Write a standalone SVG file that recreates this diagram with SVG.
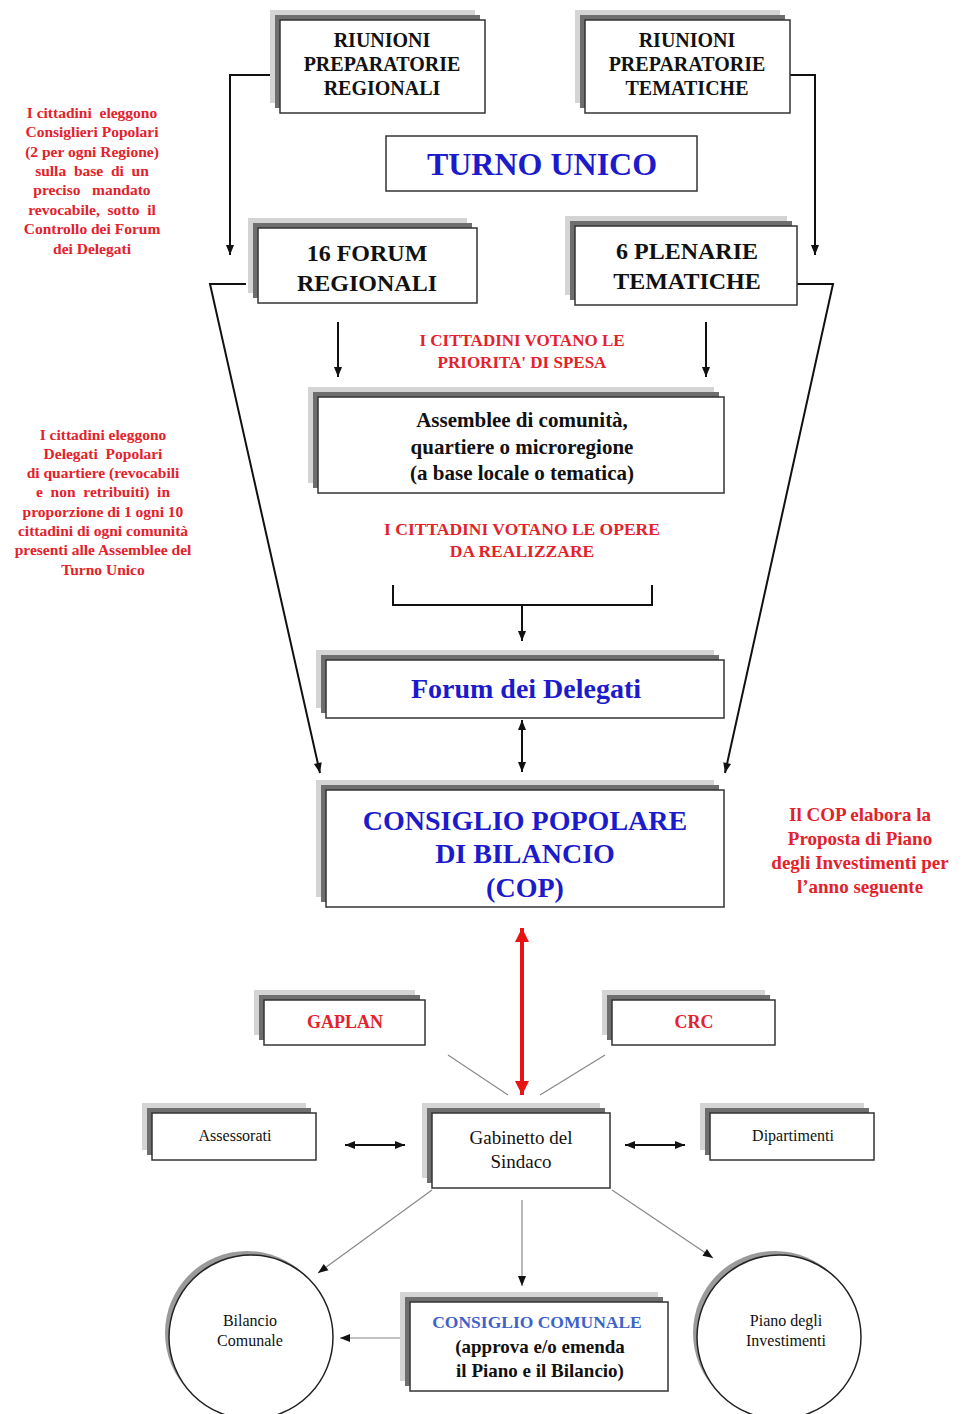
<svg xmlns="http://www.w3.org/2000/svg" width="962" height="1414" viewBox="0 0 962 1414">
<style>
.sh1{fill:#d4d4d4}
.sh2{fill:#6e6e6e}
.box{fill:#fff;stroke:#333;stroke-width:1.5}
.t{font-family:"Liberation Serif","Times New Roman",serif;text-anchor:middle;fill:#111}
.b{font-weight:bold}
.red{fill:#e3222b}
.blue{fill:#1b1bcc}
.con{fill:none;stroke:#111;stroke-width:2}
.thin{fill:none;stroke:#888;stroke-width:1.2}
.csh{fill:#9a9a9a}
.circ{fill:#fff;stroke:#222;stroke-width:1.5}
</style>
<defs>
<marker id="ah" viewBox="0 0 10 10" refX="10" refY="5" markerWidth="11" markerHeight="10" markerUnits="userSpaceOnUse" orient="auto-start-reverse"><path d="M0,1 L10,5 L0,9 z" fill="#111"/></marker>
<marker id="ahr" viewBox="0 0 10 10" refX="10" refY="5" markerWidth="16" markerHeight="14" markerUnits="userSpaceOnUse" orient="auto-start-reverse"><path d="M0,0 L10,5 L0,10 z" fill="#e81414"/></marker>
</defs>
<rect width="962" height="1414" fill="#fff"/>

<g id="connectors">
<path class="con" d="M272,75 H230 V255" marker-end="url(#ah)"/>
<path class="con" d="M790,75 H815 V255" marker-end="url(#ah)"/>
<path class="con" d="M246,284 H210 L320,773" marker-end="url(#ah)"/>
<path class="con" d="M797,284 H833 L725,773" marker-end="url(#ah)"/>
<path class="con" d="M338,322 V377" marker-end="url(#ah)"/>
<path class="con" d="M706,322 V377" marker-end="url(#ah)"/>
<path class="con" d="M393,585 V605 H652 V585"/>
<path class="con" d="M522,605 V641" marker-end="url(#ah)"/>
<path class="con" d="M522,720 V772" marker-start="url(#ah)" marker-end="url(#ah)"/>
<path fill="none" stroke="#e81414" stroke-width="4" d="M522,928 V1095" marker-start="url(#ahr)" marker-end="url(#ahr)"/>
<path class="thin" d="M448,1055 L508,1095"/>
<path class="thin" d="M605,1055 L540,1095"/>
<path class="con" d="M345,1145 H405" marker-start="url(#ah)" marker-end="url(#ah)"/>
<path class="con" d="M625,1145 H685" marker-start="url(#ah)" marker-end="url(#ah)"/>
<path class="thin" d="M432,1190 L318,1273" marker-end="url(#ah)"/>
<path class="thin" d="M522,1200 V1286" marker-end="url(#ah)"/>
<path class="thin" d="M612,1190 L713,1258" marker-end="url(#ah)"/>
<path class="thin" d="M410,1338 H340" marker-end="url(#ah)"/>
</g>

<g id="n-riunioni-regionali">
<rect class="sh1" x="270" y="10" width="205" height="93"/><rect class="sh2" x="275" y="15" width="205" height="93"/>
<rect class="box" x="280" y="20" width="205" height="93"/>
<text class="t b" font-size="20"><tspan x="382" y="47">RIUNIONI</tspan><tspan x="382" y="71">PREPARATORIE</tspan><tspan x="382" y="95">REGIONALI</tspan></text>
</g>
<g id="n-riunioni-tematiche">
<rect class="sh1" x="575" y="10" width="205" height="93"/><rect class="sh2" x="580" y="15" width="205" height="93"/>
<rect class="box" x="585" y="20" width="205" height="93"/>
<text class="t b" font-size="20"><tspan x="687" y="47">RIUNIONI</tspan><tspan x="687" y="71">PREPARATORIE</tspan><tspan x="687" y="95">TEMATICHE</tspan></text>
</g>
<g id="n-turno-unico">
<rect class="box" x="386" y="136" width="311" height="55"/>
<text class="t b blue" font-size="32" x="542" y="175">TURNO UNICO</text>
</g>
<g id="n-forum-regionali">
<rect class="sh1" x="248" y="218" width="219" height="75"/><rect class="sh2" x="253" y="223" width="219" height="75"/>
<rect class="box" x="258" y="228" width="219" height="75"/>
<text class="t b" font-size="24"><tspan x="367" y="261">16 FORUM</tspan><tspan x="367" y="291">REGIONALI</tspan></text>
</g>
<g id="n-plenarie">
<rect class="sh1" x="565" y="216" width="222" height="79"/><rect class="sh2" x="570" y="221" width="222" height="79"/>
<rect class="box" x="575" y="226" width="222" height="79"/>
<text class="t b" font-size="24"><tspan x="687" y="259">6 PLENARIE</tspan><tspan x="687" y="289">TEMATICHE</tspan></text>
</g>
<g id="n-assemblee">
<rect class="sh1" x="308" y="387" width="406" height="96"/><rect class="sh2" x="313" y="392" width="406" height="96"/>
<rect class="box" x="318" y="397" width="406" height="96"/>
<text class="t b" font-size="21"><tspan x="522" y="427">Assemblee di comunità,</tspan><tspan x="522" y="454">quartiere o microregione</tspan><tspan x="522" y="480">(a base locale o tematica)</tspan></text>
</g>
<g id="n-forum-delegati">
<rect class="sh1" x="316" y="650" width="398" height="58"/><rect class="sh2" x="321" y="655" width="398" height="58"/>
<rect class="box" x="326" y="660" width="398" height="58"/>
<text class="t b blue" font-size="28" x="526" y="698">Forum dei Delegati</text>
</g>
<g id="n-cop">
<rect class="sh1" x="316" y="780" width="398" height="117"/><rect class="sh2" x="321" y="785" width="398" height="117"/>
<rect class="box" x="326" y="790" width="398" height="117"/>
<text class="t b blue" font-size="28"><tspan x="525" y="830">CONSIGLIO POPOLARE</tspan><tspan x="525" y="863">DI BILANCIO</tspan><tspan x="525" y="897">(COP)</tspan></text>
</g>
<g id="n-gaplan">
<rect class="sh1" x="254" y="990" width="161" height="45"/><rect class="sh2" x="259" y="995" width="161" height="45"/>
<rect class="box" x="264" y="1000" width="161" height="45"/>
<text class="t b red" font-size="18" x="345" y="1028">GAPLAN</text>
</g>
<g id="n-crc">
<rect class="sh1" x="602" y="990" width="163" height="45"/><rect class="sh2" x="607" y="995" width="163" height="45"/>
<rect class="box" x="612" y="1000" width="163" height="45"/>
<text class="t b red" font-size="18" x="694" y="1028">CRC</text>
</g>
<g id="n-assessorati">
<rect class="sh1" x="142" y="1103" width="164" height="47"/><rect class="sh2" x="147" y="1108" width="164" height="47"/>
<rect class="box" x="152" y="1113" width="164" height="47"/>
<text class="t" font-size="16" x="235" y="1141">Assessorati</text>
</g>
<g id="n-gabinetto">
<rect class="sh1" x="422" y="1103" width="178" height="75"/><rect class="sh2" x="427" y="1108" width="178" height="75"/>
<rect class="box" x="432" y="1113" width="178" height="75"/>
<text class="t" font-size="19"><tspan x="521" y="1144">Gabinetto del</tspan><tspan x="521" y="1168">Sindaco</tspan></text>
</g>
<g id="n-dipartimenti">
<rect class="sh1" x="700" y="1103" width="164" height="47"/><rect class="sh2" x="705" y="1108" width="164" height="47"/>
<rect class="box" x="710" y="1113" width="164" height="47"/>
<text class="t" font-size="16" x="793" y="1141">Dipartimenti</text>
</g>
<g id="n-consiglio-comunale">
<rect class="sh1" x="400" y="1292" width="258" height="89"/><rect class="sh2" x="405" y="1297" width="258" height="89"/>
<rect class="box" x="410" y="1302" width="258" height="89"/>
<text class="t b" font-size="17.5" x="537" y="1328" style="fill:#3d62c8">CONSIGLIO COMUNALE</text>
<text class="t b" font-size="19"><tspan x="540" y="1353">(approva e/o emenda</tspan><tspan x="540" y="1377">il Piano e il Bilancio)</tspan></text>
</g>
<g id="n-bilancio">
<circle class="csh" cx="247" cy="1333" r="82"/>
<circle class="circ" cx="251" cy="1337" r="82"/>
<text class="t" font-size="16"><tspan x="250" y="1326">Bilancio</tspan><tspan x="250" y="1346">Comunale</tspan></text>
</g>
<g id="n-piano">
<circle class="csh" cx="775" cy="1333" r="82"/>
<circle class="circ" cx="779" cy="1337" r="82"/>
<text class="t" font-size="16"><tspan x="786" y="1326">Piano degli</tspan><tspan x="786" y="1346">Investimenti</tspan></text>
</g>

<g id="n-note-consiglieri">
<text class="t b red" font-size="15.5" xml:space="preserve"><tspan x="92" y="118">I cittadini  eleggono</tspan><tspan x="92" y="137">Consiglieri Popolari</tspan><tspan x="92" y="157">(2 per ogni Regione)</tspan><tspan x="92" y="176">sulla  base  di  un</tspan><tspan x="92" y="195">preciso   mandato</tspan><tspan x="92" y="215">revocabile,  sotto  il</tspan><tspan x="92" y="234">Controllo dei Forum</tspan><tspan x="92" y="254">dei Delegati</tspan></text>
</g>
<g id="n-note-delegati">
<text class="t b red" font-size="15.5" xml:space="preserve"><tspan x="103" y="440">I cittadini eleggono</tspan><tspan x="103" y="459">Delegati  Popolari</tspan><tspan x="103" y="478">di quartiere (revocabili</tspan><tspan x="103" y="497">e  non  retribuiti)  in</tspan><tspan x="103" y="517">proporzione di 1 ogni 10</tspan><tspan x="103" y="536">cittadini di ogni comunità</tspan><tspan x="103" y="555">presenti alle Assemblee del</tspan><tspan x="103" y="575">Turno Unico</tspan></text>
</g>
<g id="n-note-priorita">
<text class="t b red" font-size="17"><tspan x="522" y="346">I CITTADINI VOTANO LE</tspan><tspan x="522" y="368">PRIORITA' DI SPESA</tspan></text>
</g>
<g id="n-note-opere">
<text class="t b red" font-size="17.5"><tspan x="522" y="535">I CITTADINI VOTANO LE OPERE</tspan><tspan x="522" y="557">DA REALIZZARE</tspan></text>
</g>
<g id="n-note-cop">
<text class="t b red" font-size="19"><tspan x="860" y="821">Il COP elabora la</tspan><tspan x="860" y="845">Proposta di Piano</tspan><tspan x="860" y="869">degli Investimenti per</tspan><tspan x="860" y="893">l’anno seguente</tspan></text>
</g>
</svg>
